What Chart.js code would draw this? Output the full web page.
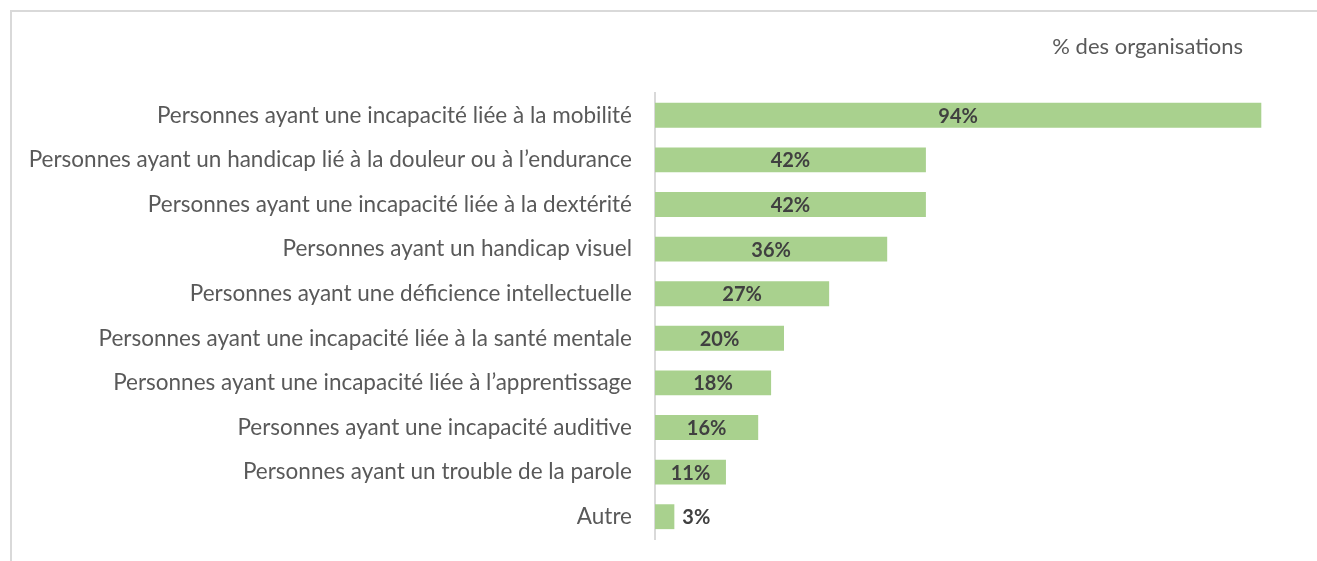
<!DOCTYPE html>
<html>
<head>
<meta charset="utf-8">
<script src="https://cdn.jsdelivr.net/npm/chart.js@4.4.1/dist/chart.umd.min.js"></script>
<style>
    html, body { margin: 0; padding: 0; background: #fff; }
    #wrap { position: relative; width: 1317px; height: 561px; overflow: hidden; }
    #frame {
        position: absolute; left: 10px; top: 10px; width: 1400px; height: 600px;
        border-top: 2px solid #d9d9d9; border-left: 2px solid #d9d9d9;
    }
    canvas { position: absolute; left: 0; top: 0; }
</style>
</head>
<body>
<div id="wrap">
    <div id="frame"></div>
    <canvas id="chart" width="1317" height="561"></canvas>
</div>
<script>
const categories = [
    "Personnes ayant une incapacité liée à la mobilité",
    "Personnes ayant un handicap lié à la douleur ou à l’endurance",
    "Personnes ayant une incapacité liée à la dextérité",
    "Personnes ayant un handicap visuel",
    "Personnes ayant une déficience intellectuelle",
    "Personnes ayant une incapacité liée à la santé mentale",
    "Personnes ayant une incapacité liée à l’apprentissage",
    "Personnes ayant une incapacité auditive",
    "Personnes ayant un trouble de la parole",
    "Autre"
];
const values = [94, 42, 42, 36, 27, 20, 18, 16, 11, 3];
const unitTitle = "% des organisations";

const FONT = "Lato, 'Open Sans', sans-serif";

// value labels: centred in the bar, or just right of it when the bar is too short
const valueLabels = {
    id: 'valueLabels',
    afterDatasetsDraw(chart) {
        const ctx = chart.ctx;
        const meta = chart.getDatasetMeta(0);
        ctx.save();
        ctx.font = "bold 20px " + FONT;
        ctx.fillStyle = "#404040";
        ctx.textBaseline = "middle";
        meta.data.forEach((bar, i) => {
            const txt = values[i] + "%";
            const w = bar.x - bar.base;
            if (w > ctx.measureText(txt).width + 8) {
                ctx.textAlign = "center";
                ctx.fillText(txt, (bar.x + bar.base) / 2, bar.y + 1);
            } else {
                ctx.textAlign = "left";
                ctx.fillText(txt, bar.x + 8, bar.y + 1);
            }
        });
        ctx.restore();
    }
};

// "% des organisations" above the plot, right side
const unitLabel = {
    id: 'unitLabel',
    afterDraw(chart) {
        const ctx = chart.ctx;
        ctx.save();
        ctx.font = "22px " + FONT;
        ctx.fillStyle = "#595959";
        ctx.textAlign = "right";
        ctx.textBaseline = "middle";
        ctx.fillText(unitTitle, chart.chartArea.right - 57, 47);
        ctx.restore();
    }
};

new Chart(document.getElementById("chart"), {
    type: 'bar',
    data: {
        labels: categories,
        datasets: [{
            data: values,
            backgroundColor: '#a9d18e',
            borderWidth: 0,
            barPercentage: 0.9,
            categoryPercentage: 0.62
        }]
    },
    options: {
        indexAxis: 'y',
        responsive: false,
        animation: false,
        layout: { padding: { left: 0, top: 93, right: 17, bottom: 22 } },
        plugins: {
            legend: { display: false },
            tooltip: { enabled: false }
        },
        scales: {
            x: {
                display: false,
                min: 0,
                max: 100
            },
            y: {
                afterFit(scale) {
                    scale.width = 655;
                    // labels sit in the middle of each band, no extra room needed
                    scale.paddingTop = 0;
                    scale.paddingBottom = 0;
                },
                grid: { display: false, drawTicks: false },
                border: { display: true, color: '#d9d9d9', width: 2 },
                ticks: {
                    padding: 23,
                    color: '#595959',
                    font: { family: FONT, size: 22.5 }
                }
            }
        }
    },
    plugins: [valueLabels, unitLabel]
});
</script>
</body>
</html>
